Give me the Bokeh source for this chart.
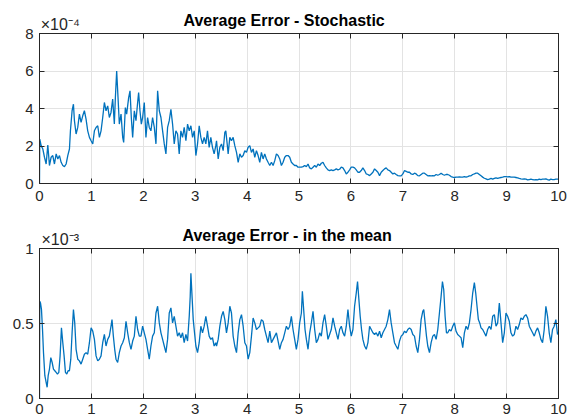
from bokeh.plotting import figure
from bokeh.layouts import column
from bokeh.models import Range1d, FixedTicker, LinearAxis, CustomJSTickFormatter
from bokeh.embed import file_html
from bokeh.resources import INLINE

title_top = "Average Error - Stochastic"
title_bottom = "Average Error - in the mean"
exp_top = "\u00d710\u207b\u2074"
exp_bottom = "\u00d710\u207b\u00b3"
x_ticks = [0, 1, 2, 3, 4, 5, 6, 7, 8, 9, 10]
y_ticks_top = [0, 2, 4, 6, 8]
y_ticks_bottom = [0, 0.5, 1]
y_labels_bottom = ["0", "0.5", "1"]

# Stochastic error (units of 1e-4)
t_stoch = [0, 0.005, 0.032, 0.064, 0.096, 0.128, 0.160, 0.192, 0.224, 0.256, 0.288, 0.321, 0.353, 0.385, 0.417,
           0.449, 0.481, 0.513, 0.545, 0.577, 0.596, 0.628, 0.654, 0.673, 0.705, 0.737, 0.769, 0.801, 0.833,
           0.865, 0.897, 0.929, 0.962, 0.994, 1.026, 1.058, 1.090, 1.122, 1.154, 1.186, 1.218, 1.250, 1.282,
           1.314, 1.346, 1.378, 1.410, 1.442, 1.462, 1.487, 1.513, 1.538, 1.571, 1.603, 1.622, 1.654, 1.679,
           1.718, 1.744, 1.769, 1.795, 1.827, 1.859, 1.891, 1.910, 1.936, 1.962, 1.987, 2.019, 2.051, 2.083,
           2.115, 2.147, 2.179, 2.212, 2.244, 2.276, 2.308, 2.340, 2.372, 2.404, 2.436, 2.468, 2.500, 2.532,
           2.564, 2.596, 2.628, 2.660, 2.692, 2.724, 2.756, 2.788, 2.821, 2.853, 2.885, 2.917, 2.949, 2.981,
           3.013, 3.045, 3.077, 3.109, 3.141, 3.173, 3.205, 3.237, 3.269, 3.301, 3.333, 3.365, 3.397,
           3.411, 3.443, 3.475, 3.507, 3.539, 3.571, 3.590, 3.616, 3.635, 3.667, 3.699, 3.731, 3.763, 3.796,
           3.828, 3.860, 3.892, 3.924, 3.956, 3.988, 4.020, 4.052, 4.084, 4.116, 4.148, 4.180, 4.212, 4.244,
           4.276, 4.308, 4.340, 4.372, 4.404, 4.437, 4.469, 4.501, 4.533, 4.565, 4.597, 4.629, 4.661, 4.693,
           4.725, 4.757, 4.789, 4.821, 4.853, 4.885, 4.917, 4.949, 4.981, 5.013, 5.046, 5.078, 5.110, 5.142,
           5.174, 5.206, 5.238, 5.270, 5.302, 5.334, 5.366, 5.398, 5.430, 5.462, 5.494, 5.526, 5.558, 5.590,
           5.622, 5.655, 5.687, 5.719, 5.751, 5.783, 5.815, 5.847, 5.879, 5.911, 5.943, 5.975, 6.007, 6.039,
           6.071, 6.103, 6.135, 6.167, 6.199, 6.231, 6.264, 6.296, 6.328, 6.360, 6.392, 6.424, 6.456, 6.488,
           6.520, 6.552, 6.584, 6.616, 6.648, 6.680, 6.712, 6.744,
           6.776, 6.808, 6.840, 6.872, 6.905, 6.937, 6.969, 7.001, 7.033, 7.065, 7.097, 7.129, 7.161, 7.193,
           7.225, 7.257, 7.289, 7.321, 7.353, 7.385, 7.417, 7.449, 7.481, 7.514, 7.546, 7.578, 7.610, 7.642,
           7.674, 7.706, 7.738, 7.770, 7.802, 7.834, 7.866, 7.898, 7.930, 7.962, 7.994, 8.026, 8.058, 8.091,
           8.123, 8.155, 8.187, 8.219, 8.251, 8.283, 8.315, 8.347, 8.379, 8.411, 8.443, 8.475, 8.507, 8.539,
           8.571, 8.603, 8.635, 8.667, 8.700, 8.732, 8.764, 8.796, 8.828, 8.860, 8.892, 8.924, 8.956, 8.988,
           9.020, 9.052, 9.084, 9.116, 9.148, 9.180, 9.212, 9.244, 9.276, 9.309, 9.341, 9.373, 9.405, 9.437,
           9.469, 9.501, 9.533, 9.565, 9.597, 9.629, 9.661, 9.693, 9.725, 9.757, 9.789, 9.821, 9.853, 9.885,
           9.917, 9.949, 9.981, 10.0]
err_stoch = [0, 2.37, 2.02, 1.84, 1.40, 1.04, 2.05, 0.96, 1.40, 1.49, 1.04, 1.58, 1.31, 1.49, 1.13,
             0.96, 0.90, 1.04, 1.49, 1.84, 2.81, 3.88, 4.23, 3.35, 2.64, 2.99, 3.70, 3.26, 3.61,
             3.88, 3.43, 2.81, 2.46, 2.28, 2.11, 2.81, 2.99, 3.08, 2.46, 2.81, 3.52, 4.32, 3.88,
             4.14, 3.52, 3.79, 4.50, 3.17, 4.58, 6.00, 4.58, 3.17, 3.70, 2.46, 2.19, 4.05, 3.70,
             4.58, 4.94, 3.52, 2.46, 3.88, 3.35, 4.32, 4.85, 3.88, 3.17, 3.52, 4.32, 2.46, 3.52,
             2.99, 2.81, 3.52, 2.99, 2.11, 4.94, 3.88, 3.52, 2.81, 2.11, 1.58, 2.99, 3.35, 3.96,
             3.17, 2.11, 2.81, 2.64, 1.58, 2.81, 2.46, 2.99, 2.28, 3.17, 2.81, 3.08, 2.46, 2.81,
             1.49, 2.11, 3.08, 2.46, 2.11, 2.46, 2.11, 2.81, 1.93, 2.46, 1.93, 1.58, 2.02,
             2.28, 1.31, 1.93, 2.11, 1.75, 2.73, 2.81, 2.11, 1.58, 2.46, 2.28, 2.46, 2.02, 1.66,
             1.13, 1.58, 1.40, 1.49, 1.75, 1.66, 1.93, 2.02, 1.66, 1.84, 1.40, 1.75, 1.49, 1.13,
             1.66, 1.31, 1.58, 1.31, 1.13, 0.96, 1.13, 0.96, 1.22, 1.58, 1.49, 1.31, 0.96, 1.13,
             1.40, 1.49, 1.49, 1.40, 1.13, 1.04, 0.96, 0.96, 0.87, 0.87, 0.87, 0.90, 0.96, 0.90,
             1.04, 0.83, 0.78, 0.87, 0.96, 0.87, 1.04, 0.96, 1.08, 1.13, 0.96, 0.83, 0.73, 0.69,
             0.73, 0.69, 0.73, 0.78, 0.73, 0.76, 0.87, 0.83, 0.69, 0.51, 0.60, 0.73, 0.87, 0.87,
             0.83, 0.73, 0.60, 0.60, 0.69, 0.83, 0.69, 0.51, 0.48, 0.42, 0.51, 0.60, 0.78, 0.69,
             0.60, 0.42, 0.60, 0.69, 0.78, 0.83, 0.73, 0.69,
             0.60, 0.51, 0.55, 0.48, 0.42, 0.41, 0.41, 0.51, 0.69, 0.65, 0.60, 0.60, 0.51, 0.48,
             0.55, 0.51, 0.42, 0.41, 0.48, 0.55, 0.55, 0.48, 0.41, 0.42, 0.41, 0.42, 0.41, 0.48,
             0.44, 0.48, 0.55, 0.48, 0.44, 0.48, 0.48, 0.44, 0.37, 0.34, 0.32, 0.34, 0.34, 0.35,
             0.34, 0.34, 0.37, 0.34, 0.37, 0.41, 0.41, 0.48, 0.51, 0.55, 0.55, 0.48, 0.41, 0.34,
             0.28, 0.25, 0.21, 0.23, 0.27, 0.23, 0.27, 0.30, 0.27, 0.30, 0.32, 0.34, 0.37, 0.37,
             0.35, 0.37, 0.34, 0.34, 0.34, 0.32, 0.30, 0.27, 0.25, 0.23, 0.25, 0.23, 0.19, 0.21,
             0.23, 0.21, 0.19, 0.21, 0.19, 0.23, 0.21, 0.23, 0.23, 0.25, 0.21, 0.18, 0.23, 0.21,
             0.21, 0.23, 0.23, 0.23]

# Error in the mean (units of 1e-3)
t_mean = [0, 0.005, 0.019, 0.038, 0.058, 0.077, 0.103, 0.128, 0.147, 0.167, 0.192, 0.218, 0.244, 0.269,
          0.295, 0.321, 0.346, 0.372, 0.397, 0.423, 0.449, 0.474, 0.500, 0.526, 0.551, 0.577, 0.603, 0.628,
          0.654, 0.679, 0.705, 0.737, 0.769, 0.801, 0.833, 0.865, 0.897, 0.929, 0.962, 0.994, 1.026, 1.058,
          1.090, 1.122, 1.154, 1.186, 1.218, 1.250, 1.282, 1.314, 1.346, 1.378, 1.397, 1.423, 1.449, 1.474,
          1.506, 1.538, 1.571, 1.603, 1.635, 1.667, 1.699, 1.731, 1.763, 1.795, 1.827, 1.859, 1.891, 1.923,
          1.955, 1.987, 2.019, 2.051, 2.083, 2.115, 2.147, 2.179, 2.212, 2.244, 2.276, 2.308, 2.340, 2.372,
          2.404, 2.436, 2.468, 2.500, 2.532, 2.564, 2.596, 2.628, 2.660, 2.692, 2.724, 2.756, 2.788, 2.821,
          2.853, 2.885, 2.904, 2.917, 2.936, 2.962, 2.987, 3.013, 3.045, 3.077, 3.109, 3.141, 3.173, 3.205,
          3.237, 3.269, 3.301, 3.333, 3.365, 3.397,
          3.411, 3.443, 3.475, 3.507, 3.539, 3.571, 3.603, 3.635, 3.667, 3.699, 3.731, 3.763, 3.796, 3.828,
          3.860, 3.892, 3.924, 3.956, 3.988, 4.020, 4.052, 4.084, 4.116, 4.148, 4.180, 4.212, 4.244, 4.276,
          4.308, 4.340, 4.372, 4.404, 4.437, 4.469, 4.501, 4.533, 4.565, 4.597, 4.629, 4.661, 4.693, 4.725,
          4.757, 4.789, 4.821, 4.853, 4.885, 4.917, 4.949, 4.981, 5.013, 5.046, 5.065, 5.090, 5.116, 5.142,
          5.174, 5.206, 5.238, 5.270, 5.302, 5.334, 5.366, 5.398, 5.430, 5.462, 5.494, 5.526, 5.558, 5.590,
          5.622, 5.655, 5.687, 5.719, 5.751, 5.783, 5.815, 5.847, 5.879, 5.911, 5.943, 5.975, 6.007, 6.039,
          6.071, 6.103, 6.128, 6.154, 6.179, 6.205, 6.231, 6.264, 6.296, 6.328, 6.360, 6.392, 6.424, 6.456,
          6.488, 6.520, 6.552, 6.584, 6.616, 6.648, 6.680, 6.712, 6.744,
          6.776, 6.808, 6.840, 6.872, 6.905, 6.937, 6.969, 7.001, 7.033, 7.065, 7.097, 7.129, 7.161, 7.193,
          7.225, 7.257, 7.289, 7.321, 7.353, 7.385, 7.404, 7.430, 7.456, 7.481, 7.514, 7.546, 7.578, 7.610,
          7.642, 7.674, 7.706, 7.738, 7.764, 7.789, 7.815, 7.841, 7.866, 7.898, 7.930, 7.962, 7.994, 8.026,
          8.058, 8.091, 8.123, 8.155, 8.187, 8.219, 8.251, 8.283, 8.315, 8.347, 8.379, 8.405, 8.430, 8.456,
          8.482, 8.507, 8.539, 8.571, 8.603, 8.635, 8.667, 8.700, 8.732, 8.764, 8.796, 8.828, 8.860, 8.892,
          8.924, 8.956, 8.988, 9.020, 9.052, 9.084, 9.116, 9.148, 9.180, 9.212, 9.244, 9.276, 9.309, 9.341,
          9.373, 9.405, 9.437, 9.469, 9.501, 9.533, 9.565, 9.597, 9.629, 9.661, 9.693, 9.725, 9.757, 9.789,
          9.821, 9.853, 9.885, 9.917, 9.949, 9.981, 10.0]
err_mean = [0, 0.648, 0.637, 0.593, 0.460, 0.306, 0.152, 0.108, 0.075, 0.152, 0.196, 0.273, 0.240, 0.196,
            0.185, 0.174, 0.163, 0.174, 0.284, 0.471, 0.372, 0.284, 0.174, 0.163, 0.185, 0.185, 0.262, 0.438,
            0.593, 0.504, 0.328, 0.262, 0.251, 0.229, 0.262, 0.295, 0.306, 0.295, 0.372, 0.471, 0.449, 0.394,
            0.284, 0.251, 0.262, 0.284, 0.372, 0.427, 0.350, 0.394, 0.416, 0.482, 0.526, 0.416, 0.328, 0.262,
            0.240, 0.306, 0.350, 0.372, 0.405, 0.515, 0.438, 0.372, 0.328, 0.383, 0.416, 0.548, 0.460, 0.416,
            0.416, 0.482, 0.438, 0.394, 0.328, 0.262, 0.350, 0.416, 0.438, 0.570, 0.615, 0.504, 0.438, 0.394,
            0.350, 0.306, 0.394, 0.570, 0.604, 0.504, 0.548, 0.482, 0.416, 0.438, 0.405, 0.438, 0.372, 0.427,
            0.383, 0.548, 0.681, 0.835, 0.703, 0.526, 0.438, 0.350, 0.306, 0.372, 0.482, 0.438, 0.482, 0.548,
            0.482, 0.416, 0.394, 0.405, 0.350, 0.372,
            0.350, 0.394, 0.482, 0.548, 0.581, 0.526, 0.438, 0.504, 0.615, 0.570, 0.416, 0.350, 0.306, 0.438,
            0.526, 0.559, 0.482, 0.372, 0.350, 0.262, 0.306, 0.416, 0.537, 0.504, 0.460, 0.471, 0.482, 0.526,
            0.515, 0.460, 0.416, 0.372, 0.449, 0.372, 0.394, 0.416, 0.438, 0.383, 0.328, 0.372, 0.394, 0.438,
            0.482, 0.460, 0.482, 0.548, 0.460, 0.394, 0.328, 0.394, 0.504, 0.570, 0.714, 0.593, 0.460, 0.394,
            0.328, 0.438, 0.504, 0.581, 0.460, 0.372, 0.394, 0.438, 0.416, 0.504, 0.559, 0.482, 0.394, 0.427,
            0.460, 0.537, 0.482, 0.438, 0.394, 0.460, 0.482, 0.438, 0.416, 0.482, 0.593, 0.482, 0.416, 0.460,
            0.615, 0.703, 0.780, 0.659, 0.548, 0.460, 0.394, 0.350, 0.328, 0.372, 0.482, 0.460, 0.438, 0.427,
            0.438, 0.416, 0.449, 0.405, 0.438, 0.460, 0.482, 0.526, 0.593,
            0.504, 0.438, 0.372, 0.350, 0.328, 0.383, 0.416, 0.427, 0.449, 0.438, 0.460, 0.471, 0.460, 0.427,
            0.416, 0.350, 0.306, 0.394, 0.526, 0.581, 0.593, 0.504, 0.416, 0.350, 0.306, 0.372, 0.416, 0.427,
            0.394, 0.460, 0.570, 0.681, 0.780, 0.725, 0.548, 0.438, 0.438, 0.460, 0.449, 0.482, 0.504, 0.449,
            0.427, 0.416, 0.405, 0.339, 0.438, 0.482, 0.460, 0.504, 0.593, 0.703, 0.773, 0.703, 0.615, 0.526,
            0.504, 0.471, 0.460, 0.438, 0.416, 0.460, 0.482, 0.460, 0.548, 0.559, 0.482, 0.504, 0.637, 0.504,
            0.372, 0.438, 0.570, 0.548, 0.515, 0.438, 0.416, 0.427, 0.482, 0.460, 0.493, 0.537, 0.526, 0.548,
            0.559, 0.537, 0.482, 0.460, 0.438, 0.416, 0.449, 0.471, 0.438, 0.394, 0.372, 0.460, 0.615, 0.548,
            0.438, 0.372, 0.460, 0.482, 0.526, 0.427, 0.440]

AX = "#262626"
GRID = "#e3e3e3"
LINE = "#0072BD"
FONT = "Liberation Sans"
EXP_POS = 0.40  # horizontal centre of the exponent text (x units)


def blank_axis(ticks):
    ax = LinearAxis(ticker=FixedTicker(ticks=ticks),
                    formatter=CustomJSTickFormatter(code="return ''"))
    ax.axis_line_color = AX
    ax.major_tick_line_color = AX
    ax.major_tick_in = 5
    ax.major_tick_out = 0
    ax.minor_tick_line_color = None
    ax.major_label_standoff = 0
    ax.major_label_text_font_size = "0px"
    return ax


def exponent_axis(text):
    ax = LinearAxis(ticker=FixedTicker(ticks=[EXP_POS]),
                    formatter=CustomJSTickFormatter(args=dict(txt=text), code="return txt"))
    ax.axis_line_color = None
    ax.major_tick_line_color = None
    ax.major_tick_in = 0
    ax.major_tick_out = 0
    ax.minor_tick_line_color = None
    ax.major_label_standoff = 1
    ax.major_label_text_font = FONT
    ax.major_label_text_font_size = "16px"
    ax.major_label_text_color = AX
    return ax


def make_fig(height, y_end, y_ticks, top_border, bottom_border, x_standoff, t, v, title, title_offset,
             exp, y_overrides=None):
    p = figure(width=569, height=height, x_range=Range1d(0, 10), y_range=Range1d(0, y_end),
               output_backend="svg", toolbar_location=None,
               min_border_left=39, min_border_right=11, min_border_top=top_border,
               min_border_bottom=bottom_border)
    p.background_fill_color = "white"
    p.border_fill_color = "white"
    p.outline_line_color = AX
    p.line(t, v, line_color=LINE, line_width=1.3)

    xb = p.below[0]
    yl = p.left[0]
    for ax, ticks in ((xb, x_ticks), (yl, y_ticks)):
        ax.ticker = FixedTicker(ticks=ticks)
        ax.axis_line_color = AX
        ax.major_tick_line_color = AX
        ax.major_tick_in = 5
        ax.major_tick_out = 0
        ax.minor_tick_line_color = None
        ax.major_label_text_font = FONT
        ax.major_label_text_font_size = "15px"
        ax.major_label_text_color = AX
    xb.major_label_standoff = x_standoff
    yl.major_label_standoff = 6
    if y_overrides:
        yl.major_label_overrides = y_overrides

    p.xgrid.ticker = FixedTicker(ticks=x_ticks)
    p.ygrid.ticker = FixedTicker(ticks=y_ticks)
    p.xgrid.grid_line_color = GRID
    p.ygrid.grid_line_color = GRID

    p.add_layout(blank_axis(x_ticks), "above")
    p.add_layout(exponent_axis(exp), "above")
    p.add_layout(blank_axis(y_ticks), "right")

    p.title.text = title
    p.title.align = "left"
    p.title.offset = title_offset
    p.title.standoff = -32
    p.title.text_font = FONT
    p.title.text_font_size = "16px"
    p.title.text_font_style = "bold"
    p.title.text_color = "black"
    return p


p1 = make_fig(215, 8, y_ticks_top, 33, 32, 7, t_stoch, err_stoch, title_top, 144, exp_top)
p2 = make_fig(205, 1, y_ticks_bottom, 33, 22, 5, t_mean, err_mean, title_bottom, 143, exp_bottom,
              y_overrides=dict(zip(y_ticks_bottom, y_labels_bottom)))

layout = column(p1, p2, spacing=0)
open("out.html", "w").write(file_html(layout, INLINE))
